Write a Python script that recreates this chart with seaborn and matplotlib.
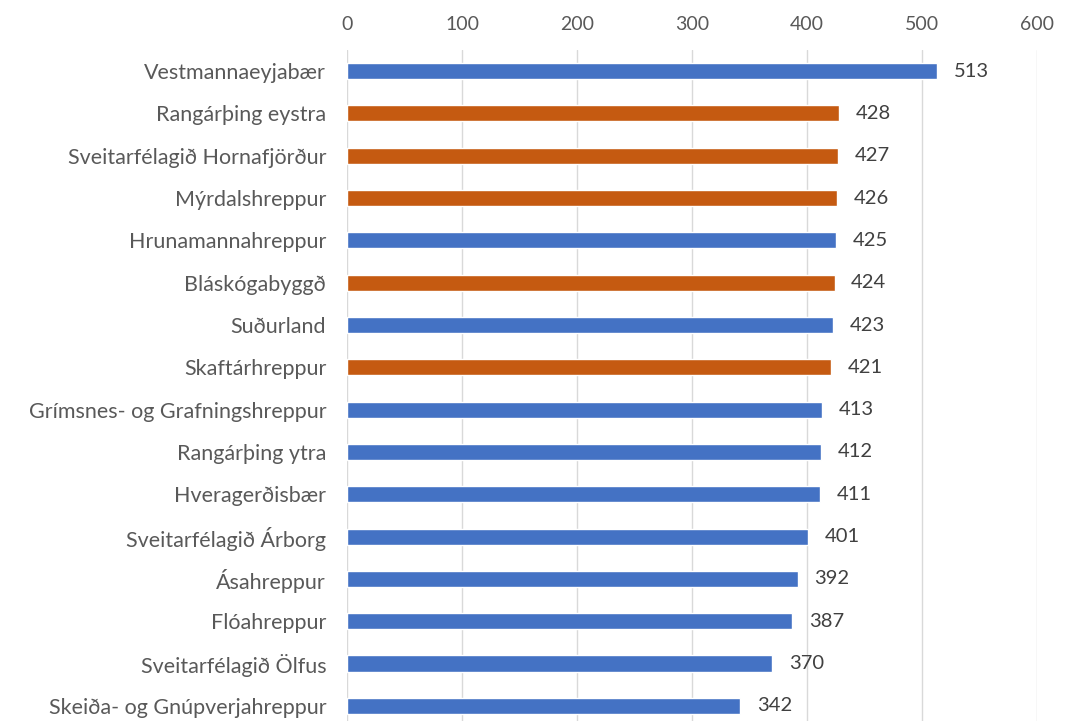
import numpy as np
import pandas as pd
import seaborn as sns
import matplotlib.pyplot as plt

# data
names = ['Vestmannaeyjabær', 'Rangárþing eystra', 'Sveitarfélagið Hornafjörður',
         'Mýrdalshreppur', 'Hrunamannahreppur', 'Bláskógabyggð', 'Suðurland',
         'Skaftárhreppur', 'Grímsnes- og Grafningshreppur', 'Rangárþing ytra',
         'Hveragerðisbær', 'Sveitarfélagið Árborg', 'Ásahreppur', 'Flóahreppur',
         'Sveitarfélagið Ölfus', 'Skeiða- og Gnúpverjahreppur']
values = [513, 428, 427, 426, 425, 424, 423, 421, 413, 412, 411, 401, 392, 387, 370, 342]
group = ['a', 'b', 'b', 'b', 'a', 'b', 'a', 'b', 'a', 'a', 'a', 'a', 'a', 'a', 'a', 'a']

df = pd.DataFrame({'name': names, 'value': values, 'group': group})

sns.set_style("white")
plt.rcParams['font.family'] = ['Lato', 'DejaVu Sans']

fig = plt.figure(figsize=(10.82, 7.21), dpi=100)
ax = fig.add_axes([0.3207, -0.0083, 0.6377, 0.939])

sns.barplot(data=df, y='name', x='value', hue='group', orient='h', dodge=False,
            palette={'a': '#4472C4', 'b': '#C55A11'}, saturation=1, width=0.38,
            legend=False, ax=ax)

for c in ax.containers:
    ax.bar_label(c, padding=12, fontsize=14.5, color='#404040')

ax.set_xlim(0, 600)
ax.set_ylim(len(names) - 0.5, -0.5)
ax.set_xticks(np.arange(0, 601, 100))
ax.xaxis.tick_top()
ax.tick_params(axis='both', length=0, labelcolor='#595959')
ax.tick_params(axis='x', pad=12, labelsize=14)
ax.tick_params(axis='y', pad=15, labelsize=15.5)
ax.grid(axis='x', color='#d9d9d9', linewidth=1)
ax.set_axisbelow(True)
for s in ax.spines.values():
    s.set_visible(False)
ax.set_xlabel('')
ax.set_ylabel('')

plt.savefig('out.png', dpi=100)
